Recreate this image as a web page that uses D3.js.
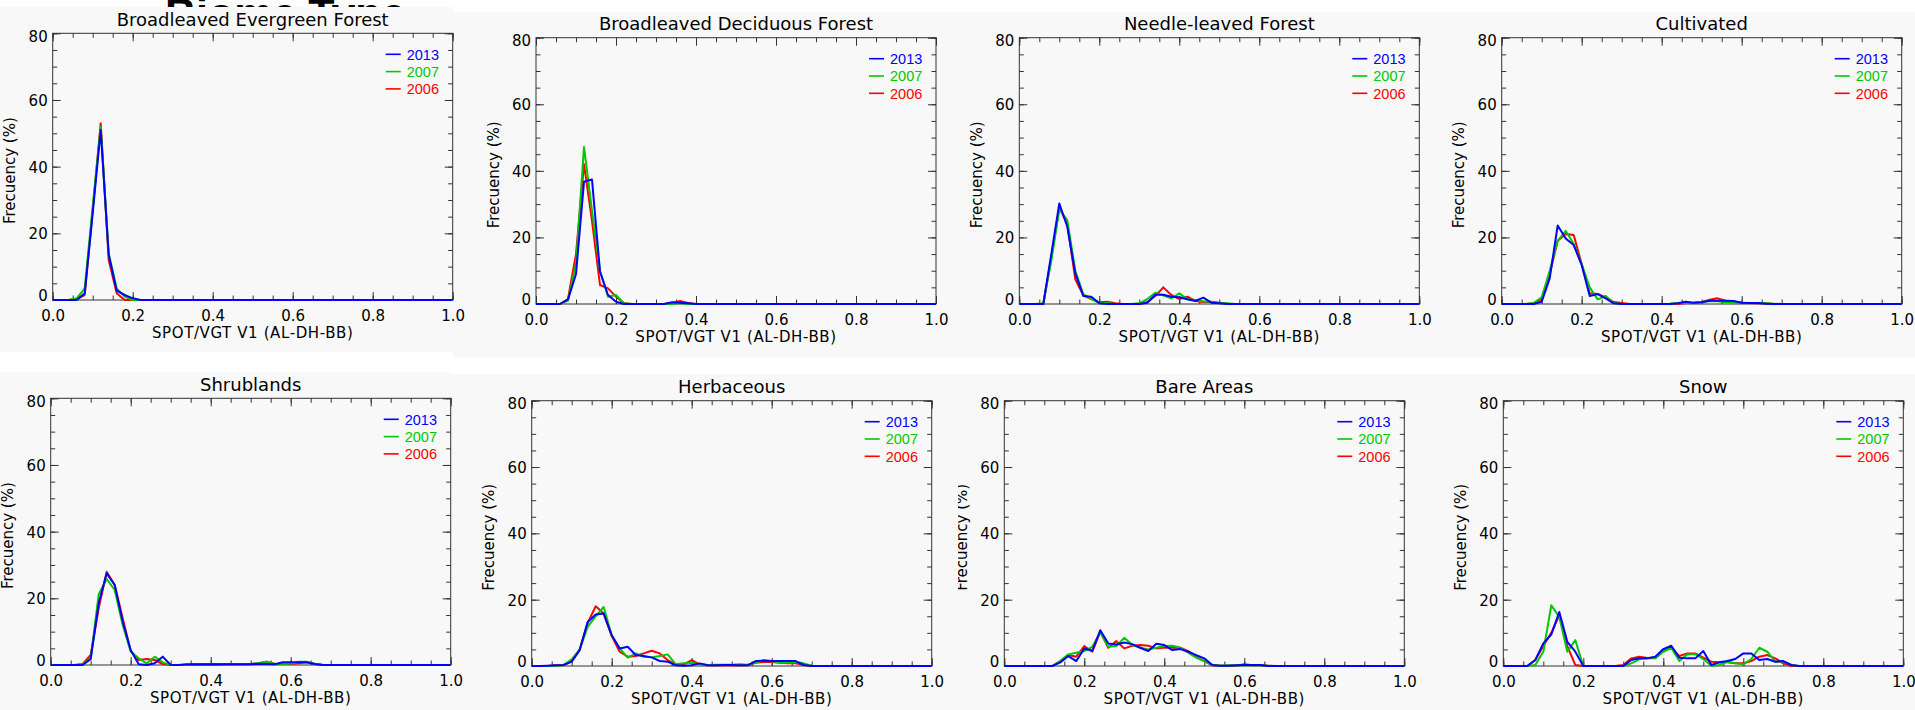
<!DOCTYPE html>
<html>
<head>
<meta charset="utf-8">
<script src="https://cdn.jsdelivr.net/npm/d3@7"></script>
<style>
  body { margin: 0; background: #ffffff; }
  svg { display: block; }
</style>
</head>
<body>
<svg id="chart" width="1915" height="710"></svg>
<script>
// Albedo bins (SPOT/VGT V1, AL-DH-BB), bin step 0.02
const bins = [0.00,0.02,0.04,0.06,0.08,0.10,0.12,0.14,0.16,0.18,
              0.20,0.22,0.24,0.26,0.28,0.30,0.32,0.34,0.36,0.38,
              0.40,0.42,0.44,0.46,0.48,0.50,0.52,0.54,0.56,0.58,
              0.60,0.62,0.64,0.66,0.68,0.70,0.72,0.74,0.76,0.78,
              0.80,0.82,0.84,0.86,0.88,0.90,0.92,0.94,0.96,0.98,
              1.00];

const biomes = ["Broadleaved Evergreen Forest", "Broadleaved Deciduous Forest",
                "Needle-leaved Forest", "Cultivated",
                "Shrublands", "Herbaceous", "Bare Areas", "Snow"];
const years = ["2013", "2007", "2006"];
const yearColors = ["#0000ff", "#00c800", "#ff0000"];

const xTickValues = [0, 0.2, 0.4, 0.6, 0.8, 1.0];
const xTickLabels = ["0.0", "0.2", "0.4", "0.6", "0.8", "1.0"];
const yTickValues = [0, 20, 40, 60, 80];
const yTickLabels = ["0", "20", "40", "60", "80"];

// Frequency (%) per bin, one array per biome and year
const evergreen2013 = [0,0,0,0,2,26,51,13.5,2.8,1.5,
                       0.5,0,0,0,0,0,0,0,0,0,
                       0,0,0,0,0,0,0,0,0,0,
                       0,0,0,0,0,0,0,0,0,0,
                       0,0,0,0,0,0,0,0,0,0,
                       0];
const evergreen2007 = [0,0,0,0.5,3.5,28,52,14,3.5,1,
                       0,0,0,0,0,0,0,0,0,0,
                       0,0,0,0,0,0,0,0,0,0,
                       0,0,0,0,0,0,0,0,0,0,
                       0,0,0,0,0,0,0,0,0,0,
                       0];
const evergreen2006 = [0,0,0,0.3,1.5,27,53,12,2,0,
                       0,0,0,0,0,0,0,0,0,0,
                       0,0,0,0,0,0,0,0,0,0,
                       0,0,0,0,0,0,0,0,0,0,
                       0,0,0,0,0,0,0,0,0,0,
                       0];

const deciduous2013 = [0,0,0,0,1.4,9,36.7,37.4,9.7,2.7,
                       0.7,0,0,0,0,0,0,0.5,0.4,0.2,
                       0,0,0,0,0,0,0,0,0,0,
                       0,0,0,0,0,0,0,0,0,0,
                       0,0,0,0,0,0,0,0,0,0,
                       0];
const deciduous2007 = [0,0,0,0,1,12,47.2,28,10,2.2,
                       2.7,0.2,0,0,0,0,0,0,0.3,0,
                       0,0,0,0,0,0,0,0,0,0,
                       0,0,0,0,0,0,0,0,0,0,
                       0,0,0,0,0,0,0,0,0,0,
                       0];
const deciduous2006 = [0,0,0,0,1.5,15,42,25,5.7,4.7,
                       2.2,0.2,0,0,0,0,0,0.3,0.9,0.3,
                       0,0,0,0,0,0,0,0,0,0,
                       0,0,0,0,0,0,0,0,0,0,
                       0,0,0,0,0,0,0,0,0,0,
                       0];

const needle2013 = [0,0,0,0,15,30.2,23.2,9.2,2.4,2.2,
                    0.2,0,0,0,0,0,0.4,2.8,2.8,2.2,
                    2,1.4,0.9,1.9,0.4,0.2,0,0,0,0,
                    0,0,0,0,0,0,0,0,0,0,
                    0,0,0,0,0,0,0,0,0,0,
                    0];
const needle2007 = [0,0,0,0.2,13,28.4,25.2,10,3,1.5,
                    0.3,0.3,0,0,0,0.2,1.5,3.4,2.6,1.7,
                    3.2,1.4,1.2,0.8,0.5,0.3,0.2,0,0,0,
                    0,0,0,0,0,0,0,0,0,0,
                    0,0,0,0,0,0,0,0,0,0,
                    0];
const needle2006 = [0,0,0,0,14,29,24,7.4,2.6,1.5,
                    0.5,0.7,0.2,0,0,0,0.6,2.4,5,2.7,
                    1.5,2.2,0.9,0.6,0.7,0.4,0,0,0,0,
                    0,0,0,0,0,0,0,0,0,0,
                    0,0,0,0,0,0,0,0,0,0,
                    0];

const cultivated2013 = [0,0,0,0,0,0.7,7.7,23.6,19.7,17.7,
                        11.7,2.4,3,1.7,0.2,0,0,0,0,0,
                        0,0,0.2,0.7,0.4,0.5,1,1,1,0.9,
                        0.4,0.3,0.3,0.1,0,0,0,0,0,0,
                        0,0,0,0,0,0,0,0,0,0,
                        0];
const cultivated2007 = [0,0,0,0,0.3,2,10,19,22,18,
                        12,5,1.4,2.4,0.3,0,0,0,0,0,
                        0,0.1,0.3,0.4,0.3,0.6,0.9,0.8,0.5,0.4,
                        0.4,0.3,0.3,0.2,0.1,0,0,0,0,0,
                        0,0,0,0,0,0,0,0,0,0,
                        0];
const cultivated2006 = [0,0,0,0,0.2,1.5,9,19,21,20.7,
                        12,3.2,3,2,0.6,0.3,0,0,0,0,
                        0,0,0,0.3,0.4,0.6,1.3,1.7,1,0.7,
                        0.4,0.3,0.2,0.2,0,0,0,0,0,0,
                        0,0,0,0,0,0,0,0,0,0,
                        0];

const shrub2013 = [0,0,0,0,0,1.8,18.5,27.5,24,13,
                   4.5,0.2,0,0.5,2.5,0,0,0.2,0.2,0.2,
                   0.2,0.2,0.2,0.2,0.2,0.2,0.4,0.3,0.2,0.8,
                   0.8,0.8,0.8,0.3,0,0,0,0,0,0,
                   0,0,0,0,0,0,0,0,0,0,
                   0];
const shrub2007 = [0,0,0,0,0.2,2,21.2,25.8,22.5,12,
                   4,2,0.5,2.5,0.8,0,0,0.1,0.2,0.2,
                   0.3,0.3,0.2,0.2,0.2,0.3,0.5,1,0.4,0.3,
                   0.4,1,1,0.4,0.1,0,0,0,0,0,
                   0,0,0,0,0,0,0,0,0,0,
                   0];
const shrub2006 = [0,0,0,0,0.3,3,17,28,24,14,
                   4.2,1.5,1.8,1.5,0.3,0,0,0,0,0.1,
                   0.1,0.1,0.2,0.2,0.2,0.3,0.5,1,0.3,0.3,
                   0.3,0.5,0.8,0.3,0,0,0,0,0,0,
                   0,0,0,0,0,0,0,0,0,0,
                   0];

const herb2013 = [0,0,0.1,0.2,0.3,1.3,4.8,13.3,15.5,15.8,
                  9.3,5.3,5.8,3.3,3,2.6,1.5,1.3,0.2,0.1,
                  0.2,0.8,0.2,0.2,0.3,0.3,0.2,0.2,1.5,1.6,
                  1.5,1.5,1.5,1.5,0.3,0,0,0,0,0,
                  0,0,0,0,0,0,0,0,0,0,
                  0];
const herb2007 = [0,0,0,0.1,0.3,2,5,11.8,15,17.8,
                  9.3,5.3,2.5,3.8,2.8,2.6,3,3.5,0.5,0.8,
                  1,0.5,0.3,0.4,0.4,0.4,0.5,0.4,1,1.8,
                  1.5,1,1,1.2,0.8,0.1,0,0,0,0,
                  0,0,0,0,0,0,0,0,0,0,
                  0];
const herb2006 = [0,0,0,0.2,0.3,1.5,5,13,18,15.8,
                  9,4.3,2.8,3,3.8,4.6,3.8,1.8,0.3,0.5,
                  1.8,0.5,0.2,0.2,0.2,0.2,0.2,0.3,1,1.2,
                  1.2,1,0.8,0.8,0.3,0,0,0,0,0,
                  0,0,0,0,0,0,0,0,0,0,
                  0];

const bare2013 = [0,0,0,0,0,0,0,1.1,3,1.5,
                  5.3,4.6,10.8,6.8,6.5,7.1,6.6,5.5,4.5,6.7,
                  6.3,4.8,5.1,4.3,3.3,2.3,0.3,0.1,0.1,0.2,
                  0.3,0.3,0.3,0,0,0,0,0,0,0,
                  0,0,0,0,0,0,0,0,0,0,
                  0];
const bare2007 = [0,0,0,0,0,0,0,1.5,3.5,4,
                  4.5,5.8,10.1,5.8,6,8.5,6.3,5.5,5,5.5,
                  6,6.1,5.5,4,2.5,1.5,0.3,0.1,0.2,0.2,
                  0.2,0.2,0.2,0,0,0,0,0,0,0,
                  0,0,0,0,0,0,0,0,0,0,
                  0];
const bare2006 = [0,0,0,0,0,0,0,1.5,3.3,2.8,
                  6,4.3,10.3,5.5,7.5,5.3,6.1,6.3,6.1,5.3,
                  5.6,5.5,5.5,4.5,2.8,1.5,0.2,0.1,0.1,0.1,
                  0.5,0.2,0.2,0.1,0,0,0,0,0,0,
                  0,0,0,0,0,0,0,0,0,0,
                  0];

const snow2013 = [0,0,0,0,1.8,6.8,9.5,16.3,7.3,4.3,
                  0,0,0,0,0,0,1.8,2.3,2.3,2.8,
                  5.1,6.1,2.5,2.3,2.3,4.5,0.3,1.1,1.5,2.1,
                  3.8,3.8,1.8,2.1,1.3,1.5,0.3,0,0,0,
                  0,0,0,0,0,0,0,0,0,0,
                  0];
const snow2007 = [0,0,0,0,0.3,4.3,18.3,14.8,4.3,7.8,
                  0,0,0,0,0,0,0.8,2,2.3,2.3,
                  4.3,5.5,1.5,3.5,3.6,2.1,0.1,0.3,1.3,0.8,
                  0.5,2.1,5.5,4.3,1.3,1.3,0.3,0,0,0,
                  0,0,0,0,0,0,0,0,0,0,
                  0];
const snow2006 = [0,0,0,0,1.8,6,10,15.3,6,0.3,
                  0,0,0,0,0,0.3,2.3,2.8,2.4,2.6,
                  4.6,5.7,3,3.8,3.8,2.5,1.3,1.1,1.1,0.8,
                  0.8,1.5,2.8,3.3,2.3,0.8,0,0,0,0,
                  0,0,0,0,0,0,0,0,0,0,
                  0];

// one entry per biome, in the order of `years`
const seriesByBiome = [
  [evergreen2013, evergreen2007, evergreen2006],
  [deciduous2013, deciduous2007, deciduous2006],
  [needle2013, needle2007, needle2006],
  [cultivated2013, cultivated2007, cultivated2006],
  [shrub2013, shrub2007, shrub2006],
  [herb2013, herb2007, herb2006],
  [bare2013, bare2007, bare2006],
  [snow2013, snow2007, snow2006]
];

// ---- layout: panel backgrounds, visible content area and plot boxes ----
const panelLayout = [
  { bg: [0, 7, 453, 345],     view: [0, 7, 480, 345],      plot: [52.7, 33.3, 400, 266.7] },
  { bg: [453, 12, 492, 345],  view: [453, 12, 510, 345],   plot: [536, 37.7, 400, 266.3] },
  { bg: [945, 12, 483, 345],  view: [945, 12, 505, 345],   plot: [1019.3, 37.7, 400, 266.3] },
  { bg: [1428, 12, 487, 345], view: [1428, 12, 487, 345],  plot: [1501.7, 37.7, 400, 266.3] },
  { bg: [0, 372, 450, 338],   view: [0, 372, 480, 338],    plot: [50.7, 398.3, 400, 266.7] },
  { bg: [450, 374, 511, 336], view: [450, 374, 506, 336],  plot: [531.7, 400.7, 400, 265.3] },
  { bg: [956, 374, 484, 336], view: [958, 374, 500, 336],  plot: [1004.3, 400.7, 400, 265.3] },
  { bg: [1440, 374, 475, 336], view: [1440, 374, 475, 336], plot: [1503.3, 400.7, 400, 265.3] }
];

const FONT = "'DejaVu Sans', sans-serif";
const svg = d3.select("#chart");

// Heading that sits behind the first panel
svg.append("text")
  .attr("x", 165).attr("y", 27.5)
  .attr("font-family", "'Liberation Sans', Arial, sans-serif")
  .attr("font-weight", "bold")
  .attr("font-size", 43)
  .attr("fill", "#000")
  .text("Biome Type");

const defs = svg.append("defs");

// panel backgrounds first, so no panel hides a neighbour's labels
panelLayout.forEach(lay => {
  const [bx, by, bw, bh] = lay.bg;
  svg.append("rect").attr("x", bx).attr("y", by).attr("width", bw).attr("height", bh)
    .attr("fill", "#f8f8f8");
});

panelLayout.forEach((lay, p) => {
  const [vx, vy, vw, vh] = lay.view;
  const [px, py, pw, ph] = lay.plot;

  defs.append("clipPath").attr("id", "clip" + p)
    .append("rect").attr("x", vx).attr("y", vy).attr("width", vw).attr("height", vh);

  const g = svg.append("g").attr("clip-path", `url(#clip${p})`);

  const x = d3.scaleLinear().domain([0, 1]).range([px, px + pw]);
  const y = d3.scaleLinear().domain([0, 80]).range([py + ph, py]);

  // title
  g.append("text")
    .attr("x", px + pw / 2).attr("y", py - 7.5)
    .attr("text-anchor", "middle")
    .attr("font-family", FONT).attr("font-size", 18)
    .attr("fill", "#000")
    .text(biomes[p]);

  // axes: ticks point inward on all four sides
  const minorX = d3.range(0, 1.0001, 0.05);
  const minorY = d3.range(0, 80.001, 5);
  const axisStyle = sel => {
    sel.select(".domain").remove();
    sel.selectAll(".tick line").attr("stroke", "#333");
    sel.selectAll(".tick text").attr("font-family", FONT).attr("font-size", 15).attr("fill", "#000");
  };

  g.append("g").attr("transform", `translate(0,${py + ph})`)
    .call(d3.axisBottom(x).tickValues(minorX).tickSize(-4.5).tickFormat(""))
    .call(axisStyle);
  g.append("g").attr("transform", `translate(0,${py + ph})`)
    .call(d3.axisBottom(x).tickValues(xTickValues).tickSize(-8).tickPadding(10)
      .tickFormat((d, i) => xTickLabels[i]))
    .call(axisStyle);
  g.append("g").attr("transform", `translate(0,${py})`)
    .call(d3.axisTop(x).tickValues(minorX).tickSize(-4.5).tickFormat(""))
    .call(axisStyle);
  g.append("g").attr("transform", `translate(0,${py})`)
    .call(d3.axisTop(x).tickValues(xTickValues).tickSize(-8).tickFormat(""))
    .call(axisStyle);

  g.append("g").attr("transform", `translate(${px},0)`)
    .call(d3.axisLeft(y).tickValues(minorY).tickSize(-4.5).tickFormat(""))
    .call(axisStyle);
  const yAx = g.append("g").attr("transform", `translate(${px},0)`)
    .call(d3.axisLeft(y).tickValues(yTickValues).tickSize(-8).tickPadding(5)
      .tickFormat((d, i) => yTickLabels[i]))
    .call(axisStyle);
  yAx.selectAll(".tick text")
    .attr("dy", d => d === 0 ? "0.05em" : (d === 80 ? "0.55em" : "0.36em"));
  g.append("g").attr("transform", `translate(${px + pw},0)`)
    .call(d3.axisRight(y).tickValues(minorY).tickSize(-4.5).tickFormat(""))
    .call(axisStyle);
  g.append("g").attr("transform", `translate(${px + pw},0)`)
    .call(d3.axisRight(y).tickValues(yTickValues).tickSize(-8).tickFormat(""))
    .call(axisStyle);

  // frame
  g.append("rect").attr("x", px).attr("y", py).attr("width", pw).attr("height", ph)
    .attr("fill", "none").attr("stroke", "#333").attr("stroke-width", 1);

  // axis titles
  g.append("text")
    .attr("x", px + pw / 2).attr("y", py + ph + 37.5)
    .attr("text-anchor", "middle")
    .attr("font-family", FONT).attr("font-size", 15)
    .attr("letter-spacing", 0.6)
    .attr("fill", "#000")
    .text("SPOT/VGT V1 (AL-DH-BB)");
  g.append("text")
    .attr("transform", `translate(${px - 37.5},${py + ph / 2 + 4}) rotate(-90)`)
    .attr("text-anchor", "middle")
    .attr("font-family", FONT).attr("font-size", 15)
    .attr("fill", "#000")
    .text("Frecuency (%)");

  // histogram lines: 2006 first, 2013 on top
  const line = d3.line().x((d, i) => x(bins[i])).y(d => y(d));
  const series = seriesByBiome[p];
  [2, 1, 0].forEach(k => {
    g.append("path")
      .datum(series[k])
      .attr("d", line)
      .attr("fill", "none")
      .attr("stroke", yearColors[k])
      .attr("stroke-width", 2)
      .attr("stroke-linejoin", "round");
  });

  // legend
  years.forEach((yr, k) => {
    const ly = py + 21 + 17.3 * k;
    g.append("line")
      .attr("x1", px + pw - 67).attr("x2", px + pw - 52)
      .attr("y1", ly).attr("y2", ly)
      .attr("stroke", yearColors[k]).attr("stroke-width", 1.6);
    g.append("text")
      .attr("x", px + pw - 46).attr("y", ly + 5.2)
      .attr("font-family", "'Liberation Sans', Arial, sans-serif")
      .attr("font-size", 14.5)
      .attr("fill", yearColors[k])
      .text(yr);
  });
});
</script>
</body>
</html>
